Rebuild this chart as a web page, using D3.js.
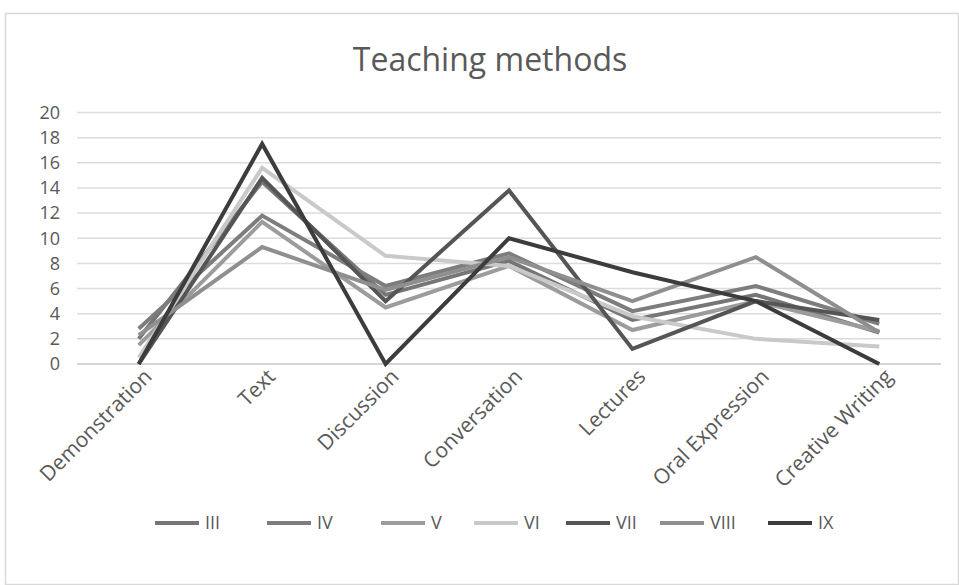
<!DOCTYPE html>
<html>
<head>
<meta charset="utf-8">
<script src="https://cdn.jsdelivr.net/npm/d3@7"></script>
<style>
  body { margin: 0; background: #fff; }
  text { font-family: "Open Sans", "Liberation Sans", sans-serif; fill: #595959; }
</style>
</head>
<body>
<svg id="chart" width="959" height="585"></svg>
<script>
/// data ///
const categories = ["Demonstration", "Text", "Discussion", "Conversation", "Lectures", "Oral Expression", "Creative Writing"];
const seriesNames = ["III", "IV", "V", "VI", "VII", "VIII", "IX"];
const valuesIII  = [2.0, 14.5, 5.5, 8.2, 3.5, 5.5, 2.5];
const valuesIV   = [2.8, 11.8, 6.2, 8.8, 4.2, 6.2, 3.2];
const valuesV    = [1.5, 11.3, 4.5, 7.8, 2.7, 5.0, 2.6];
const valuesVI   = [0.5, 15.6, 8.6, 7.8, 3.8, 2.0, 1.4];
const valuesVII  = [0.0, 14.8, 5.0, 13.8, 1.2, 5.0, 3.5];
const valuesVIII = [2.3, 9.3, 5.9, 8.5, 5.0, 8.5, 2.5];
const valuesIX   = [0.0, 17.5, 0.0, 10.0, 7.3, 5.0, 0.0];
const yTicks = [0, 2, 4, 6, 8, 10, 12, 14, 16, 18, 20];

const series = [valuesIII, valuesIV, valuesV, valuesVI, valuesVII, valuesVIII, valuesIX]
  .map((v, i) => ({ name: seriesNames[i], values: v }));

// colours (greyscale like the printed figure)
const colours = ["#767676", "#7d7d7d", "#9c9c9c", "#c9c9c9", "#555555", "#8f8f8f", "#3c3c3c"];

/// layout ///
const width = 959, height = 585;
const plotLeft = 77, plotRight = 941, plotTop = 112.5, plotBottom = 364;

const svg = d3.select("#chart");

// chart frame
svg.append("rect")
  .attr("x", 5.5).attr("y", 13.5)
  .attr("width", width - 6).attr("height", height - 14)
  .attr("fill", "#fff").attr("stroke", "#d9d9d9").attr("stroke-width", 1.5);

// title
svg.append("text")
  .attr("x", 490).attr("y", 71)
  .attr("text-anchor", "middle")
  .attr("font-size", 32)
  .text("Teaching methods");

/// scales ///
const x = d3.scalePoint().domain(categories).range([plotLeft, plotRight]).padding(0.5);
const y = d3.scaleLinear().domain([0, 20]).range([plotBottom, plotTop]);

// gridlines
svg.append("g")
  .selectAll("line").data(yTicks).join("line")
    .attr("x1", plotLeft).attr("x2", plotRight)
    .attr("y1", d => y(d)).attr("y2", d => y(d))
    .attr("stroke", d => d === 0 ? "#c8c8c8" : "#dcdcdc")
    .attr("stroke-width", 1.5);

// y axis labels
const yAxis = svg.append("g")
  .attr("transform", `translate(${plotLeft - 17},0)`)
  .call(d3.axisLeft(y).tickValues(yTicks).tickSize(0).tickPadding(0));
yAxis.select(".domain").remove();
yAxis.selectAll("text")
  .attr("font-size", 18)
  .attr("fill", "#595959")
  .style("font-family", "\"Open Sans\", sans-serif");

// x axis labels (rotated)
const xAxis = svg.append("g")
  .attr("transform", `translate(0,${plotBottom})`)
  .call(d3.axisBottom(x).tickSize(0).tickPadding(0));
xAxis.select(".domain").remove();
xAxis.selectAll("text")
  .attr("font-size", 21)
  .attr("fill", "#595959")
  .style("font-family", "\"Open Sans\", sans-serif")
  .attr("text-anchor", "end")
  .attr("dy", 0)
  .attr("transform", "translate(14,14) rotate(-45)");

/// lines ///
const line = d3.line()
  .x((d, i) => x(categories[i]))
  .y(d => y(d));

svg.append("g")
  .selectAll("path").data(series).join("path")
    .attr("d", d => line(d.values))
    .attr("fill", "none")
    .attr("stroke", (d, i) => colours[i])
    .attr("stroke-width", 4)
    .attr("stroke-linejoin", "miter");

/// legend ///
const legendX = [155, 267, 381, 474, 566, 660, 768];
const legend = svg.append("g").attr("transform", "translate(0,523)");
const item = legend.selectAll("g").data(series).join("g")
  .attr("transform", (d, i) => `translate(${legendX[i]},0)`);
item.append("line")
  .attr("x1", 0).attr("x2", 44)
  .attr("stroke", (d, i) => colours[i])
  .attr("stroke-width", 4);
item.append("text")
  .attr("x", 50).attr("dy", "0.35em")
  .attr("font-size", 18)
  .text(d => d.name);
</script>
</body>
</html>
